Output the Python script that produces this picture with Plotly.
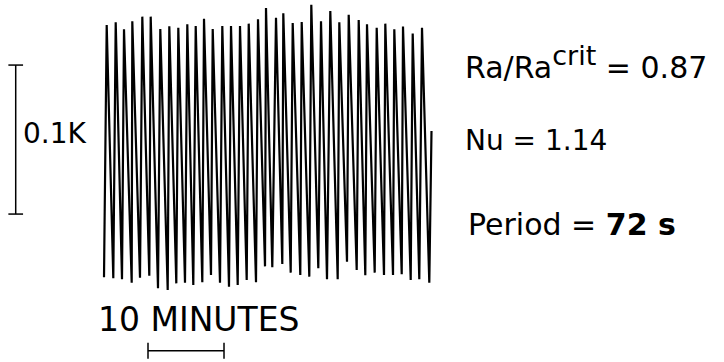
import plotly.graph_objects as go

# ---- data (time in s, temperature deviation in K) ----
trough_t = [0, 73.4, 142.1, 218.7, 284.2, 357.6, 426.3, 502.9, 570.8, 639.5,
            705.0, 776.1, 844.7, 915.8, 986.8, 1055.5, 1126.6, 1200.0, 1271.1, 1328.7,
            1407.6, 1473.9, 1549.7, 1620.8, 1691.8, 1760.5, 1845.0, 1918.4, 1995.0, 2062.9,
            2137.1, 2210.5, 2281.6, 2350.3, 2421.3, 2489.2, 2568.1]
trough_T = [-0.0854, -0.0861, -0.0868, -0.0891, -0.0857, -0.0844, -0.0928, -0.0940, -0.0895, -0.0891,
            -0.0906, -0.0888, -0.0839, -0.0891, -0.0917, -0.0906, -0.0872, -0.0888, -0.0781, -0.0787,
            -0.0765, -0.0823, -0.0839, -0.0850, -0.0794, -0.0868, -0.0868, -0.0750, -0.0805, -0.0841,
            -0.0823, -0.0839, -0.0839, -0.0834, -0.0872, -0.0868, -0.0891]
peak_t = [21.3, 92.4, 157.9, 223.4, 302.4, 368.7, 444.5, 515.5, 586.6, 657.6,
          724.0, 789.5, 858.2, 933.9, 1002.6, 1073.7, 1142.4, 1215.8, 1278.9, 1357.9,
          1415.5, 1489.7, 1560.8, 1636.6, 1713.2, 1786.6, 1857.6, 1931.8, 2010.8, 2076.3,
          2152.9, 2220.8, 2291.8, 2360.5, 2437.1, 2510.5]
peak_T = [0.0839, 0.0857, 0.0810, 0.0864, 0.0895, 0.0895, 0.0812, 0.0830, 0.0821, 0.0844,
          0.0832, 0.0881, 0.0812, 0.0832, 0.0832, 0.0832, 0.0848, 0.0877, 0.0953, 0.0888,
          0.0917, 0.0852, 0.0859, 0.0975, 0.0864, 0.0933, 0.0857, 0.0908, 0.0872, 0.0844,
          0.0821, 0.0848, 0.0810, 0.0828, 0.0781, 0.0821]
end_t = 2585.5
end_T = 0.0128

scale_K = 0.1      # vertical scale bar, K
scale_s = 600      # horizontal scale bar, s (10 minutes)

labels = {
    "scaleK": "0.1K",
    "scaleT": "10 MINUTES",
    "ra": "Ra/Ra<sup><span style='font-size:27px'>crit</span></sup> = 0.87",
    "nu": "Nu = 1.14",
    "period": "Period = <b>72 s</b>",
}

# build trace: trough, peak, trough, peak, ...
t, T = [], []
for i in range(len(trough_t)):
    t.append(trough_t[i]); T.append(trough_T[i])
    if i < len(peak_t):
        t.append(peak_t[i]); T.append(peak_T[i])
t.append(end_t); T.append(end_T)

fig = go.Figure()
fig.add_trace(go.Scatter(x=t, y=T, mode="lines",
                         line=dict(color="black", width=2.2), hoverinfo="skip"))

# vertical 0.1 K scale bar
kx = -697
ktop = 0.0570
kbot = ktop - scale_K
serif = 58
fig.add_trace(go.Scatter(
    x=[kx, kx, None, kx - serif, kx + serif, None, kx - serif, kx + serif],
    y=[ktop, kbot, None, ktop, ktop, None, kbot, kbot],
    mode="lines", line=dict(color="black", width=1.5), hoverinfo="skip"))

# horizontal 10 minute scale bar
tx0 = 347.4
tx1 = tx0 + scale_s
ty = -0.1347
th = 0.0054
fig.add_trace(go.Scatter(
    x=[tx0, tx1, None, tx0, tx0, None, tx1, tx1],
    y=[ty, ty, None, ty - th, ty + th, None, ty - th, ty + th],
    mode="lines", line=dict(color="black", width=1.5), hoverinfo="skip"))

W, H = 724, 362
font = "DejaVu Sans"

def ann(text, x, y, size, anchor="left"):
    fig.add_annotation(text=text, x=x / W, y=1 - y / H, xref="paper", yref="paper",
                       xanchor=anchor, yanchor="middle", showarrow=False,
                       font=dict(family=font, size=size, color="black"))

ann(labels["scaleK"], 21, 133, 28)
ann(labels["scaleT"], 96, 319, 33)
ann(labels["ra"], 463, 62, 30)
ann(labels["nu"], 463, 140, 28)
ann(labels["period"], 466, 224, 30)

fig.update_layout(
    width=W, height=H, autosize=False,
    margin=dict(l=0, r=0, t=0, b=0, pad=0),
    paper_bgcolor="white", plot_bgcolor="white",
    showlegend=False,
    xaxis=dict(range=[-821.05, 4894.7], visible=False, fixedrange=True),
    yaxis=dict(range=[-0.14228, 0.10067], visible=False, fixedrange=True),
)

fig.write_html("out.html", config={"displayModeBar": False})
